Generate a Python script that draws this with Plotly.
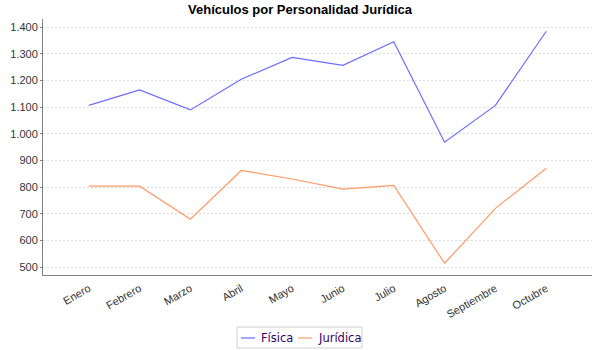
import plotly.graph_objects as go

meses = ["Enero", "Febrero", "Marzo", "Abril", "Mayo", "Junio",
         "Julio", "Agosto", "Septiembre", "Octubre"]
fisica = [1106, 1164, 1089, 1204, 1286, 1256, 1345, 968, 1106, 1384]
juridica = [803, 803, 679, 862, 830, 792, 806, 514, 720, 870]
y_ticks = [500, 600, 700, 800, 900, 1000, 1100, 1200, 1300, 1400]
series = [("Física", fisica, "#6b6bff"), ("Jurídica", juridica, "#ff9a66")]

# plot area geometry in pixels (used to place the compact legend box)
W, H = 600, 350
ML, MR, MT, MB = 43, 8, 19, 75
PW, PH = W - ML - MR, H - MT - MB


def px(x):
    return (x - ML) / PW


def py(y):
    return (H - MB - y) / PH


fig = go.Figure()
for name, vals, color in series:
    fig.add_trace(go.Scatter(x=meses, y=vals, mode="lines", name=name,
                             line=dict(color=color, width=1.2)))

# legend: bordered box with short line samples
shapes = [dict(type="rect", xref="paper", yref="paper",
               x0=px(237), x1=px(362), y0=py(348), y1=py(327),
               line=dict(color="#d0d0d0", width=1), fillcolor="white")]
annotations = []
legend_x = [(241, 259), (298, 316)]
for (name, _, color), (lx, tx) in zip(series, legend_x):
    shapes.append(dict(type="line", xref="paper", yref="paper",
                       x0=px(lx), x1=px(lx + 14), y0=py(338), y1=py(338),
                       line=dict(color=color, width=1.2)))
    annotations.append(dict(text=name, xref="paper", yref="paper",
                            x=px(tx), y=py(338), xanchor="left", yanchor="middle",
                            showarrow=False,
                            font=dict(family="DejaVu Sans", size=11.5, color="#330066")))

fig.update_layout(
    width=W, height=H,
    margin=dict(l=ML, r=MR, t=MT, b=MB, autoexpand=False),
    paper_bgcolor="white", plot_bgcolor="white",
    separators=",.",
    title=dict(text="<b>Vehículos por Personalidad Jurídica</b>",
               x=0.5, xanchor="center", y=0.985, yanchor="top",
               font=dict(family="Liberation Sans, Arial", size=13, color="black")),
    font=dict(family="Liberation Sans, Arial", size=11, color="#333333"),
    showlegend=False,
    shapes=shapes,
    annotations=annotations,
)
fig.update_xaxes(range=[-0.9, 9.9], showgrid=False, showline=True,
                 linecolor="#808080", linewidth=1, tickangle=-30,
                 ticks="", automargin=False, ticklabelstandoff=2,
                 tickfont=dict(size=11, color="#333333"))
fig.update_yaxes(range=[470, 1430], tickvals=y_ticks, tickformat=",d",
                 showgrid=True, gridcolor="#dddddd", griddash="2px,2px",
                 gridwidth=1, showline=True, linecolor="#808080", linewidth=1,
                 ticks="outside", ticklen=2, tickcolor="#808080",
                 zeroline=False, automargin=False,
                 tickfont=dict(size=11, color="#333333"))

fig.write_html("out.html")
